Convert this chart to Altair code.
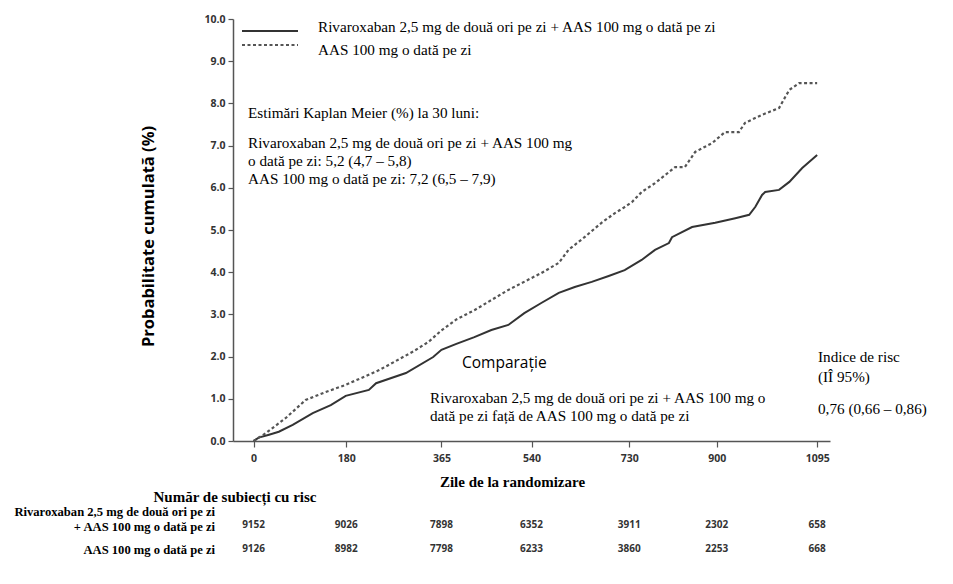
import altair as alt
import pandas as pd

# Kaplan-Meier cumulative probability (%) by days since randomization
riva_days = [0, 10, 30, 49, 76, 115, 150, 179, 224, 238, 296, 349, 365, 394, 429, 462,
             495, 526, 559, 593, 624, 657, 690, 721, 754, 780, 807, 813, 852, 897, 936,
             963, 975, 988, 994, 1021, 1041, 1066, 1095]
riva_vals = [0.0, 0.08, 0.15, 0.22, 0.38, 0.66, 0.85, 1.07, 1.21, 1.37, 1.61, 1.99, 2.16,
             2.30, 2.46, 2.63, 2.75, 3.03, 3.27, 3.51, 3.65, 3.77, 3.91, 4.05, 4.29, 4.53,
             4.69, 4.83, 5.07, 5.17, 5.28, 5.36, 5.55, 5.83, 5.90, 5.95, 6.14, 6.47, 6.78]

aas_days = [0, 23, 62, 101, 140, 179, 244, 310, 340, 365, 394, 429, 495, 559, 593, 612,
            643, 676, 702, 718, 735, 754, 780, 819, 838, 858, 891, 916, 943, 955, 988,
            1021, 1033, 1041, 1060, 1095]
aas_vals = [0.0, 0.18, 0.54, 0.97, 1.16, 1.33, 1.68, 2.12, 2.35, 2.62, 2.88, 3.10, 3.58,
            3.98, 4.22, 4.53, 4.83, 5.17, 5.40, 5.52, 5.66, 5.90, 6.11, 6.49, 6.49, 6.85,
            7.06, 7.32, 7.32, 7.54, 7.73, 7.89, 8.15, 8.32, 8.48, 8.48]

# Number at risk
risk_days = [0, 180, 365, 540, 730, 900, 1095]
risk_riva = [9152, 9026, 7898, 6352, 3911, 2302, 658]
risk_aas = [9126, 8982, 7798, 6233, 3860, 2253, 668]

x_ticks = [0, 180, 365, 540, 730, 900, 1095]
y_ticks = [0, 1, 2, 3, 4, 5, 6, 7, 8, 9, 10]

W, H = 597, 422
SERIF = "Liberation Serif"
SANS = "Open Sans"
NOTE_SIZE = 15.2

x_scale = alt.Scale(domain=[-40, 1120], nice=False, zero=False)
y_scale = alt.Scale(domain=[0, 10], nice=False)

x_axis = alt.Axis(values=x_ticks, format="d", title="Zile de la randomizare", grid=False,
                  labelFont=SANS, labelFontWeight="bold", labelFontSize=10.5,
                  labelColor="#333", labelPadding=6, tickSize=6, tickColor="#555",
                  domainColor="#555", domainWidth=1.5, tickWidth=1.2,
                  titleFont=SERIF, titleFontSize=15, titleFontWeight="bold",
                  titleColor="#000", titleX=279, titleY=40, titleBaseline="middle")
y_axis = alt.Axis(values=y_ticks, format=".1f", title="Probabilitate cumulată (%)",
                  grid=False, labelFont=SANS, labelFontWeight="bold", labelFontSize=10.5,
                  labelColor="#333", labelPadding=3, tickSize=5, tickColor="#555",
                  domainColor="#555", domainWidth=1.5, tickWidth=1.2,
                  titleFont=SANS, titleFontSize=16.5, titleFontWeight="bold",
                  titleColor="#000", titleX=-85, titleY=217, titleAngle=-90,
                  titleAlign="center", titleBaseline="middle")

riva_df = pd.DataFrame({"day": riva_days, "pct": riva_vals})
aas_df = pd.DataFrame({"day": aas_days, "pct": aas_vals})

riva_line = alt.Chart(riva_df).mark_line(color="#333", strokeWidth=2).encode(
    x=alt.X("day:Q", scale=x_scale, axis=x_axis),
    y=alt.Y("pct:Q", scale=y_scale, axis=y_axis),
)
aas_line = alt.Chart(aas_df).mark_line(color="#555", strokeWidth=2.2,
                                       strokeDash=[3, 2.5]).encode(
    x=alt.X("day:Q", scale=x_scale),
    y=alt.Y("pct:Q", scale=y_scale),
)


def note(text, x, y, size=NOTE_SIZE, font=SERIF, weight="normal", align="left",
         color="#000"):
    return alt.Chart(pd.DataFrame({"t": [text]})).mark_text(
        font=font, fontSize=size, fontWeight=weight, align=align,
        baseline="middle", color=color
    ).encode(x=alt.value(x), y=alt.value(y), text="t:N")


# Legend
legend_solid = alt.Chart(pd.DataFrame({"k": [0]})).mark_rule(
    color="#333", strokeWidth=2).encode(x=alt.value(9), x2=alt.value(65), y=alt.value(12))
legend_dash = alt.Chart(pd.DataFrame({"k": [0]})).mark_rule(
    color="#555", strokeWidth=2, strokeDash=[3, 2.5]).encode(
    x=alt.value(9), x2=alt.value(65), y=alt.value(26))

notes = [
    note("Rivaroxaban 2,5 mg de două ori pe zi + AAS 100 mg o dată pe zi", 85, 8),
    note("AAS 100 mg o dată pe zi", 85, 31),
    note("Estimări Kaplan Meier (%) la 30 luni:", 15, 94),
    note("Rivaroxaban 2,5 mg de două ori pe zi + AAS 100 mg", 15, 124),
    note("o dată pe zi: 5,2 (4,7 – 5,8)", 15, 142),
    note("AAS 100 mg o dată pe zi: 7,2 (6,5 – 7,9)", 15, 160),
    note("Comparație", 229, 344, size=15.5, font=SANS),
    note("Rivaroxaban 2,5 mg de două ori pe zi + AAS 100 mg o", 197, 379),
    note("dată pe zi față de AAS 100 mg o dată pe zi", 197, 397),
    note("Indice de risc", 585, 338),
    note("(IÎ 95%)", 585, 358),
    note("0,76 (0,66 – 0,86)", 585, 390),
    note("Număr de subiecți cu risc", 2, 478, size=15, weight="bold", align="center"),
    note("Rivaroxaban 2,5 mg de două ori pe zi", -18, 493, size=12.6, weight="bold",
         align="right"),
    note("+ AAS 100 mg o dată pe zi", -18, 508, size=12.6, weight="bold", align="right"),
    note("AAS 100 mg o dată pe zi", -18, 531, size=12.6, weight="bold", align="right"),
]

risk_df = pd.DataFrame({"day": risk_days, "riva": risk_riva, "aas": risk_aas})
risk_style = dict(font=SANS, fontSize=10, fontWeight="bold", color="#333",
                  align="center", baseline="middle")
risk_riva_text = alt.Chart(risk_df).mark_text(**risk_style).encode(
    x=alt.X("day:Q", scale=x_scale), y=alt.value(506), text="riva:Q")
risk_aas_text = alt.Chart(risk_df).mark_text(**risk_style).encode(
    x=alt.X("day:Q", scale=x_scale), y=alt.value(530), text="aas:Q")

chart = alt.layer(
    riva_line, aas_line, legend_solid, legend_dash, *notes,
    risk_riva_text, risk_aas_text
).properties(
    width=W, height=H,
    autosize=alt.AutoSizeParams(type="none"),
    padding={"left": 233, "top": 19, "right": 123, "bottom": 143},
    background="white",
).configure_view(stroke=None)

chart.save("out.html", embed_options={"renderer": "svg", "actions": False})
